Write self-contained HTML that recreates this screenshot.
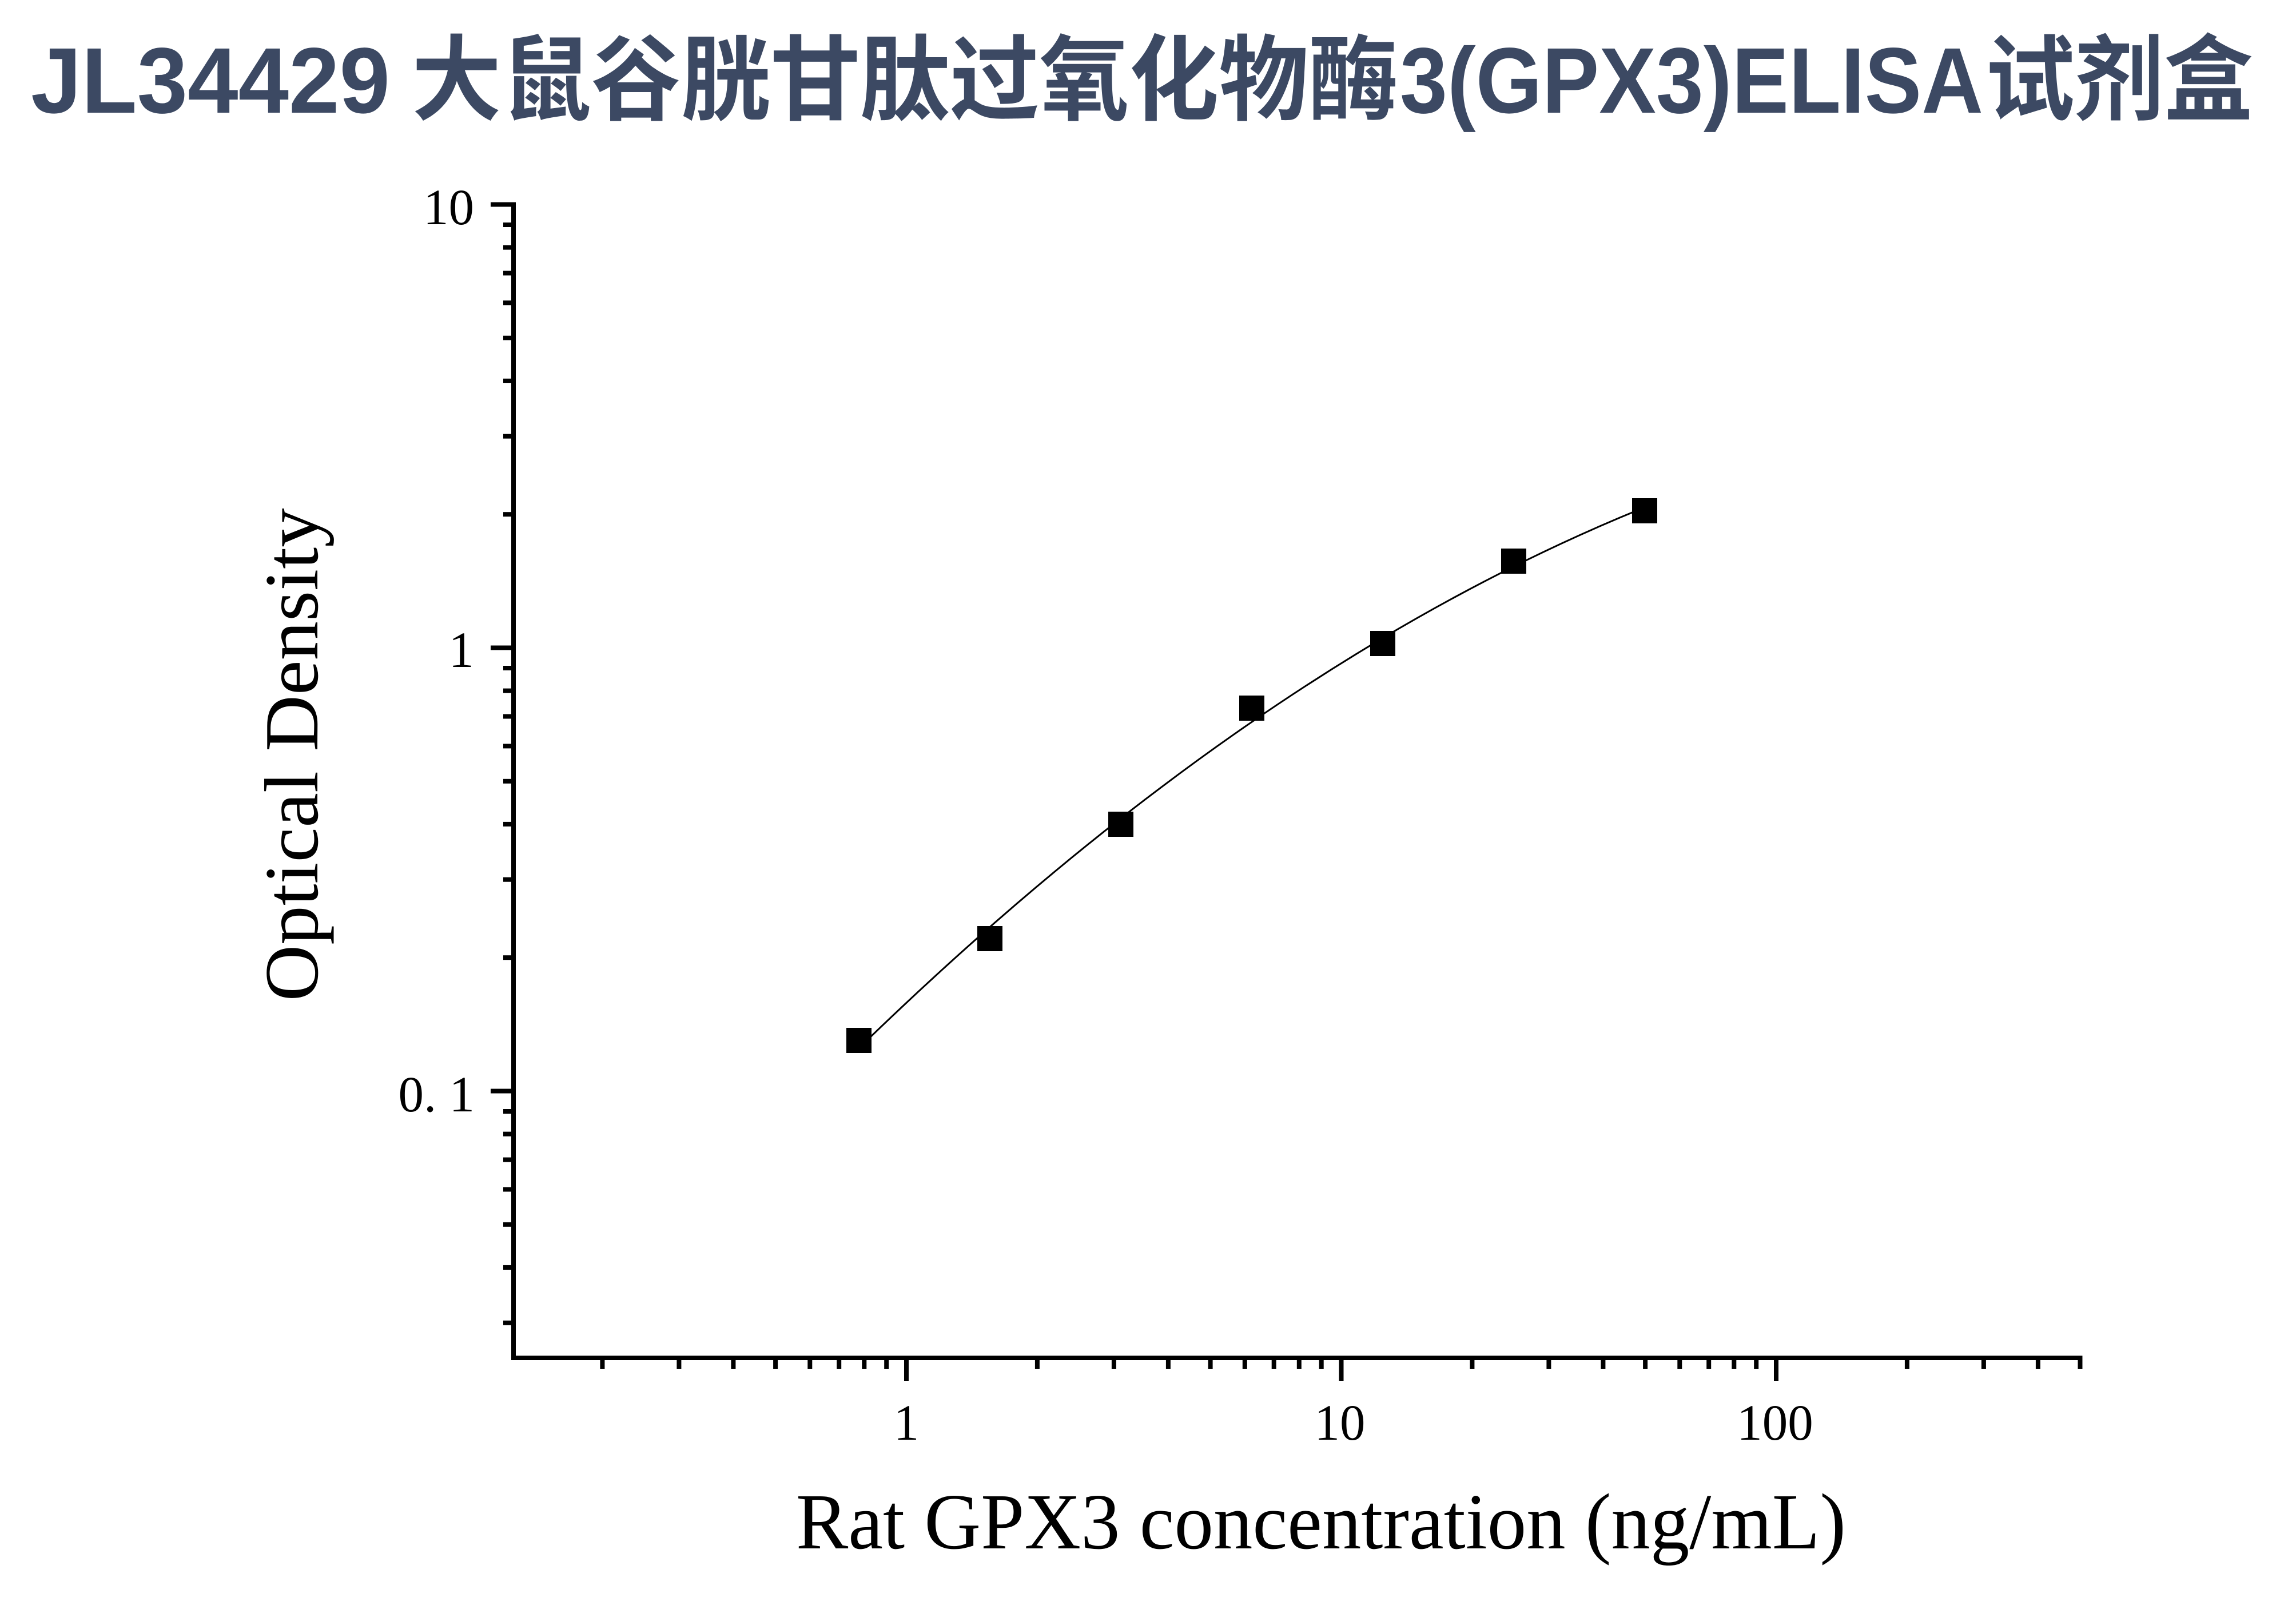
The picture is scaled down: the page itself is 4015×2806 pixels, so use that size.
<!DOCTYPE html>
<html>
<head>
<meta charset="utf-8">
<style>
  html, body { margin: 0; padding: 0; background: #ffffff; }
  body { width: 4015px; height: 2806px; overflow: hidden; }
  svg { display: block; }
</style>
</head>
<body>
<svg xmlns="http://www.w3.org/2000/svg" width="4015" height="2806" viewBox="0 0 4015 2806">
  <rect x="0" y="0" width="4015" height="2806" fill="#ffffff"/>

  <!-- Title -->
  <g fill="#3c4963" font-family="'Liberation Sans', 'Noto Sans CJK SC', sans-serif" font-weight="700" font-size="163">
    <text x="54" y="197" textLength="628" lengthAdjust="spacingAndGlyphs">JL34429</text>
    <text x="720" y="197" textLength="1725" lengthAdjust="spacingAndGlyphs">大鼠谷胱甘肽过氧化物酶</text>
    <text x="2448" y="197" textLength="1020" lengthAdjust="spacingAndGlyphs">3(GPX3)ELISA</text>
    <text x="3472" y="197" textLength="468" lengthAdjust="spacingAndGlyphs">试剂盒</text>
  </g>

  <!-- Axes -->
  <g fill="#000000">
    <!-- Y axis line -->
    <rect x="894" y="353.5" width="8" height="2024.5"/>
    <!-- X axis line -->
    <rect x="894" y="2370" width="2747.5" height="8"/>

    <!-- Y major ticks -->
    <rect x="858" y="353.5" width="40" height="8"/>
    <rect x="858" y="1128.5" width="40" height="8"/>
    <rect x="858" y="1903.5" width="40" height="8"/>

    <!-- Y minor ticks (2..9) decade 1-10 -->
    <rect x="880" y="895.2" width="18" height="8"/>
    <rect x="880" y="758.7" width="18" height="8"/>
    <rect x="880" y="661.9" width="18" height="8"/>
    <rect x="880" y="586.8" width="18" height="8"/>
    <rect x="880" y="525.4" width="18" height="8"/>
    <rect x="880" y="473.5" width="18" height="8"/>
    <rect x="880" y="428.6" width="18" height="8"/>
    <rect x="880" y="389.0" width="18" height="8"/>
    <!-- decade 0.1-1 -->
    <rect x="880" y="1670.2" width="18" height="8"/>
    <rect x="880" y="1533.7" width="18" height="8"/>
    <rect x="880" y="1436.9" width="18" height="8"/>
    <rect x="880" y="1361.8" width="18" height="8"/>
    <rect x="880" y="1300.4" width="18" height="8"/>
    <rect x="880" y="1248.5" width="18" height="8"/>
    <rect x="880" y="1203.6" width="18" height="8"/>
    <rect x="880" y="1164.0" width="18" height="8"/>
    <!-- decade 0.01-0.1 (0.03..0.09) -->
    <rect x="880" y="2308.7" width="18" height="8"/>
    <rect x="880" y="2211.9" width="18" height="8"/>
    <rect x="880" y="2136.8" width="18" height="8"/>
    <rect x="880" y="2075.4" width="18" height="8"/>
    <rect x="880" y="2023.5" width="18" height="8"/>
    <rect x="880" y="1978.6" width="18" height="8"/>
    <rect x="880" y="1939.0" width="18" height="8"/>

    <!-- X major ticks -->
    <rect x="1581" y="2374" width="8" height="40"/>
    <rect x="2341.5" y="2374" width="8" height="40"/>
    <rect x="3102" y="2374" width="8" height="40"/>

    <!-- X minor ticks decade 0.1-1 -->
    <rect x="1049.4" y="2374" width="8" height="19"/>
    <rect x="1183.4" y="2374" width="8" height="19"/>
    <rect x="1278.4" y="2374" width="8" height="19"/>
    <rect x="1352.1" y="2374" width="8" height="19"/>
    <rect x="1412.3" y="2374" width="8" height="19"/>
    <rect x="1463.2" y="2374" width="8" height="19"/>
    <rect x="1507.3" y="2374" width="8" height="19"/>
    <rect x="1546.2" y="2374" width="8" height="19"/>
    <!-- decade 1-10 -->
    <rect x="1809.9" y="2374" width="8" height="19"/>
    <rect x="1943.9" y="2374" width="8" height="19"/>
    <rect x="2038.9" y="2374" width="8" height="19"/>
    <rect x="2112.6" y="2374" width="8" height="19"/>
    <rect x="2172.8" y="2374" width="8" height="19"/>
    <rect x="2223.7" y="2374" width="8" height="19"/>
    <rect x="2267.8" y="2374" width="8" height="19"/>
    <rect x="2306.7" y="2374" width="8" height="19"/>
    <!-- decade 10-100 -->
    <rect x="2570.4" y="2374" width="8" height="19"/>
    <rect x="2704.4" y="2374" width="8" height="19"/>
    <rect x="2799.4" y="2374" width="8" height="19"/>
    <rect x="2873.1" y="2374" width="8" height="19"/>
    <rect x="2933.3" y="2374" width="8" height="19"/>
    <rect x="2984.2" y="2374" width="8" height="19"/>
    <rect x="3028.3" y="2374" width="8" height="19"/>
    <rect x="3067.2" y="2374" width="8" height="19"/>
    <!-- decade 100-500 -->
    <rect x="3330.9" y="2374" width="8" height="19"/>
    <rect x="3464.9" y="2374" width="8" height="19"/>
    <rect x="3559.9" y="2374" width="8" height="19"/>
    <rect x="3633.5" y="2374" width="8" height="19"/>
  </g>

  <!-- Tick labels -->
  <g fill="#000000" font-family="'Liberation Serif', 'Times New Roman', serif" font-size="89">
    <text x="829" y="392" text-anchor="end">10</text>
    <text x="829" y="1166" text-anchor="end">1</text>
    <text x="830" y="1943" text-anchor="end">0. 1</text>

    <text x="1585" y="2517" text-anchor="middle">1</text>
    <text x="2343" y="2517" text-anchor="middle">10</text>
    <text x="3104" y="2517" text-anchor="middle">100</text>
  </g>

  <!-- Axis titles -->
  <g fill="#000000" font-family="'Liberation Serif', 'Times New Roman', serif">
    <text x="2310" y="2707" font-size="139" text-anchor="middle" textLength="1836" lengthAdjust="spacingAndGlyphs">Rat GPX3 concentration (ng/mL)</text>
    <text transform="translate(555,1319.5) rotate(-90)" x="0" y="0" font-size="134" text-anchor="middle" textLength="862" lengthAdjust="spacingAndGlyphs">Optical Density</text>
  </g>

  <!-- Fitted curve -->
  <path d="M 1502 1832.4 Q 2189 1164.7 2876 887" fill="none" stroke="#000000" stroke-width="3"/>

  <!-- Data points -->
  <g fill="#000000">
    <rect x="1480" y="1797" width="44" height="44"/>
    <rect x="1709" y="1619" width="44" height="44"/>
    <rect x="1938" y="1419" width="44" height="44"/>
    <rect x="2167" y="1216" width="44" height="44"/>
    <rect x="2396" y="1103" width="44" height="44"/>
    <rect x="2625" y="959" width="44" height="44"/>
    <rect x="2854" y="871" width="44" height="44"/>
  </g>
</svg>
</body>
</html>
